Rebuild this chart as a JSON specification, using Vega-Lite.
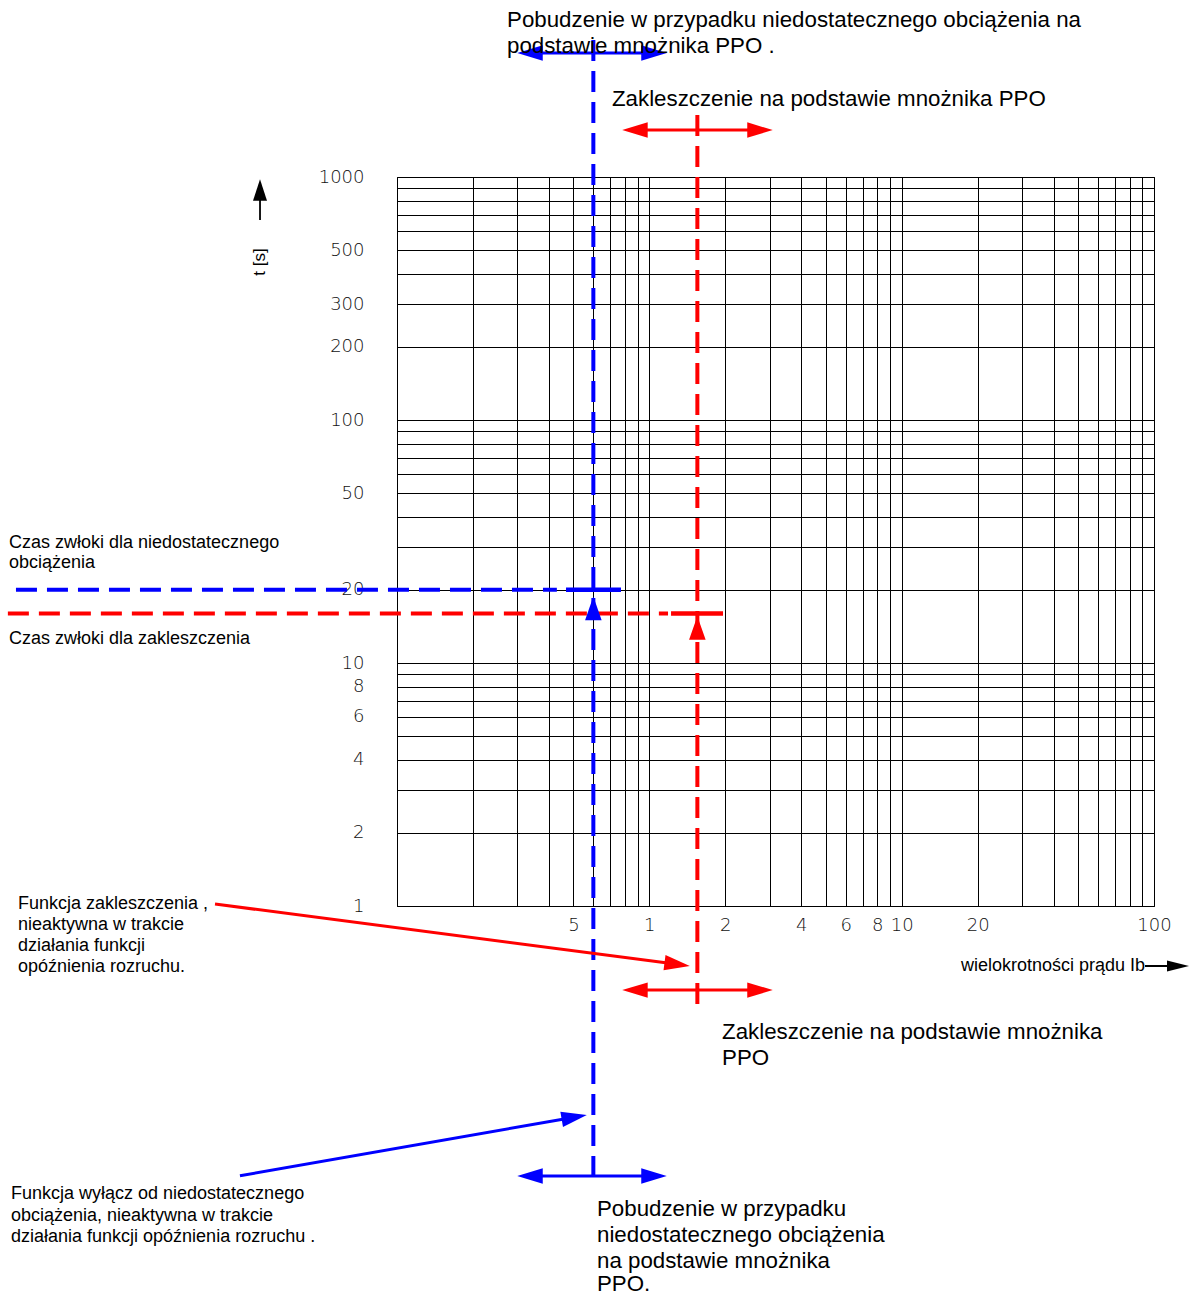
{
  "$schema": "https://vega.github.io/schema/vega-lite/v6.json",
  "width": 757,
  "height": 729,
  "autosize": {"type": "none"},
  "padding": {"left": 397, "top": 177, "right": 40, "bottom": 391},
  "background": "white",
  "config": {"view": {"stroke": "#000", "strokeWidth": 1}, "font": "Liberation Sans"},
  "datasets": {
    "dashed": [
      {"seg": "b-v", "series": "underload", "x": 0.6, "y": 3662},
      {"seg": "b-v", "series": "underload", "x": 0.6, "y": 0.0698},
      {"seg": "b-h", "series": "underload", "x": 0.00309, "y": 20},
      {"seg": "b-h", "series": "underload", "x": 0.43, "y": 20},
      {"seg": "r-v", "series": "jam", "x": 1.55, "y": 1799},
      {"seg": "r-v", "series": "jam", "x": 1.55, "y": 0.3628},
      {"seg": "r-h", "series": "jam", "x": 0.00287, "y": 16},
      {"seg": "r-h", "series": "jam", "x": 1.186, "y": 16}
    ],
    "bars": [
      {"seg": "b", "series": "underload", "x": 0.4675, "y": 20},
      {"seg": "b", "series": "underload", "x": 0.772, "y": 20},
      {"seg": "r", "series": "jam", "x": 1.219, "y": 16},
      {"seg": "r", "series": "jam", "x": 1.959, "y": 16}
    ],
    "shafts": [
      {"seg": "bt", "series": "underload", "x": 0.3365, "y": 3238},
      {"seg": "bt", "series": "underload", "x": 1.0435, "y": 3238},
      {"seg": "rt", "series": "jam", "x": 0.877, "y": 1561},
      {"seg": "rt", "series": "jam", "x": 2.745, "y": 1561},
      {"seg": "rb", "series": "jam", "x": 0.877, "y": 0.451},
      {"seg": "rb", "series": "jam", "x": 2.745, "y": 0.451},
      {"seg": "bb", "series": "underload", "x": 0.3365, "y": 0.07743},
      {"seg": "bb", "series": "underload", "x": 1.0435, "y": 0.07743},
      {"seg": "rd", "series": "jam", "x": 0.019, "y": 1.019},
      {"seg": "rd", "series": "jam", "x": 1.289, "y": 0.5755},
      {"seg": "bd", "series": "underload", "x": 0.02386, "y": 0.07764},
      {"seg": "bd", "series": "underload", "x": 0.5039, "y": 0.1352}
    ],
    "axisShafts": [
      {"seg": "t", "series": "axis", "x": 0.02865, "y": 665.3},
      {"seg": "t", "series": "axis", "x": 0.02865, "y": 884.2},
      {"seg": "i", "series": "axis", "x": 92.12, "y": 0.5663},
      {"seg": "i", "series": "axis", "x": 124.5, "y": 0.5663}
    ],
    "heads": [
      {"dir": "up", "series": "underload", "x": 0.6, "y": 16.78},
      {"dir": "up", "series": "jam", "x": 1.55, "y": 13.93},
      {"dir": "left", "series": "underload", "x": 0.3365, "y": 3238},
      {"dir": "right", "series": "underload", "x": 1.0435, "y": 3238},
      {"dir": "left", "series": "jam", "x": 0.877, "y": 1561},
      {"dir": "right", "series": "jam", "x": 2.745, "y": 1561},
      {"dir": "left", "series": "jam", "x": 0.877, "y": 0.451},
      {"dir": "right", "series": "jam", "x": 2.745, "y": 0.451},
      {"dir": "left", "series": "underload", "x": 0.3365, "y": 0.07743},
      {"dir": "right", "series": "underload", "x": 1.0435, "y": 0.07743},
      {"dir": "down-right", "series": "jam", "x": 1.289, "y": 0.5755},
      {"dir": "up-right", "series": "underload", "x": 0.5039, "y": 0.1352},
      {"dir": "axis-up", "series": "axis", "x": 0.02865, "y": 884.2},
      {"dir": "axis-right", "series": "axis", "x": 124.5, "y": 0.5663}
    ],
    "texts": [
      {"role": "big", "text": "Pobudzenie w przypadku niedostatecznego obciążenia na", "x": 0.2729, "y": 4427},
      {"role": "big", "text": "podstawie mnożnika PPO .", "x": 0.2729, "y": 3460},
      {"role": "big", "text": "Zakleszczenie na podstawie mnożnika PPO", "x": 0.7113, "y": 2094},
      {"role": "big", "text": "Zakleszczenie na podstawie mnożnika", "x": 1.941, "y": 0.3031},
      {"role": "big", "text": "PPO", "x": 1.941, "y": 0.2368},
      {"role": "big", "text": "Pobudzenie w przypadku", "x": 0.6203, "y": 0.0566},
      {"role": "big", "text": "niedostatecznego obciążenia", "x": 0.6203, "y": 0.0443},
      {"role": "big", "text": "na podstawie mnożnika", "x": 0.6203, "y": 0.0347},
      {"role": "big", "text": "PPO.", "x": 0.6203, "y": 0.0277},
      {"role": "note", "text": "Czas zwłoki dla niedostatecznego", "x": 0.0029, "y": 31.17},
      {"role": "note", "text": "obciążenia", "x": 0.0029, "y": 25.79},
      {"role": "note", "text": "Czas zwłoki dla zakleszczenia", "x": 0.0029, "y": 12.55},
      {"role": "note", "text": "Funkcja zakleszczenia ,", "x": 0.003148, "y": 1.019},
      {"role": "note", "text": "nieaktywna w trakcie", "x": 0.003148, "y": 0.8353},
      {"role": "note", "text": "działania funkcji", "x": 0.003148, "y": 0.6846},
      {"role": "note", "text": "opóźnienia rozruchu.", "x": 0.003148, "y": 0.561},
      {"role": "note", "text": "Funkcja wyłącz od niedostatecznego", "x": 0.002953, "y": 0.0653},
      {"role": "note", "text": "obciążenia, nieaktywna w trakcie", "x": 0.002953, "y": 0.05301},
      {"role": "note", "text": "działania funkcji opóźnienia rozruchu .", "x": 0.002953, "y": 0.04343},
      {"role": "xtitle", "text": "wielokrotności prądu Ib", "x": 92.12, "y": 0.5663},
      {"role": "ytitle", "text": "t [s]", "x": 0.02865, "y": 446.9}
    ]
  },
  "encoding": {
    "x": {
      "field": "x", "type": "quantitative",
      "scale": {"type": "log", "domain": [0.1, 100], "nice": false},
      "axis": {
        "values": [0.1, 0.2, 0.3, 0.4, 0.5, 0.6, 0.7, 0.8, 0.9, 1, 2, 3, 4, 5, 6, 7, 8, 9, 10, 20, 30, 40, 50, 60, 70, 80, 90, 100],
        "labelExpr": "indexof([0.5,1,2,4,6,8,10,20,100], datum.value) >= 0 ? (datum.value == 0.5 ? '5' : toString(datum.value)) : ''",
        "title": null, "grid": true, "gridColor": "#000", "gridOpacity": 1, "gridWidth": 1,
        "ticks": false, "domain": false, "labelFont": "DejaVu Sans", "labelFontSize": 18, "labelFontWeight": 200,
        "labelColor": "#111", "labelPadding": 10, "labelFlush": false, "labelOverlap": false, "labelBound": false
      }
    },
    "y": {
      "field": "y", "type": "quantitative",
      "scale": {"type": "log", "domain": [1, 1000], "nice": false},
      "axis": {
        "values": [1, 2, 3, 4, 5, 6, 7, 8, 9, 10, 20, 30, 40, 50, 60, 70, 80, 90, 100, 200, 300, 400, 500, 600, 700, 800, 900, 1000],
        "labelExpr": "indexof([1,2,4,6,8,10,20,50,100,200,300,500,1000], datum.value) >= 0 ? toString(datum.value) : ''",
        "title": null, "grid": true, "gridColor": "#000", "gridOpacity": 1, "gridWidth": 1,
        "ticks": false, "domain": false, "labelFont": "DejaVu Sans", "labelFontSize": 18, "labelFontWeight": 200,
        "labelColor": "#111", "labelPadding": 33, "labelOverlap": false, "labelBound": false, "labelFlush": false
      }
    }
  },
  "layer": [
    {
      "data": {"name": "dashed"},
      "mark": {"type": "line", "strokeWidth": 4, "strokeDash": [21, 10], "strokeCap": "butt"},
      "encoding": {
        "detail": {"field": "seg"},
        "color": {"field": "series", "type": "nominal", "scale": {"domain": ["underload", "jam", "axis"], "range": ["#0000ff", "#ff0000", "#000000"]}, "legend": null}
      }
    },
    {
      "data": {"name": "bars"},
      "mark": {"type": "line", "strokeWidth": 4.5, "strokeCap": "butt"},
      "encoding": {
        "detail": {"field": "seg"},
        "color": {"field": "series", "type": "nominal", "scale": {"domain": ["underload", "jam", "axis"], "range": ["#0000ff", "#ff0000", "#000000"]}, "legend": null}
      }
    },
    {
      "data": {"name": "shafts"},
      "mark": {"type": "line", "strokeWidth": 3, "strokeCap": "butt"},
      "encoding": {
        "detail": {"field": "seg"},
        "color": {"field": "series", "type": "nominal", "scale": {"domain": ["underload", "jam", "axis"], "range": ["#0000ff", "#ff0000", "#000000"]}, "legend": null}
      }
    },
    {
      "data": {"name": "axisShafts"},
      "mark": {"type": "line", "strokeWidth": 1.8, "strokeCap": "butt"},
      "encoding": {
        "detail": {"field": "seg"},
        "color": {"field": "series", "type": "nominal", "scale": {"domain": ["underload", "jam", "axis"], "range": ["#0000ff", "#ff0000", "#000000"]}, "legend": null}
      }
    },
    {
      "data": {"name": "heads"},
      "transform": [{"filter": "datum.dir == 'up'"}],
      "mark": {"type": "point", "filled": true, "opacity": 1, "strokeWidth": 0, "shape": "M0,-1L0.7,1L-0.7,1Z", "size": 560, "angle": 0},
      "encoding": {"color": {"field": "series", "type": "nominal", "scale": {"domain": ["underload", "jam", "axis"], "range": ["#0000ff", "#ff0000", "#000000"]}, "legend": null}}
    },
    {
      "data": {"name": "heads"},
      "transform": [{"filter": "datum.dir == 'left'"}],
      "mark": {"type": "point", "filled": true, "opacity": 1, "strokeWidth": 0, "shape": "M0,-1L0.6,1L-0.6,1Z", "size": 650, "angle": 270},
      "encoding": {"color": {"field": "series", "type": "nominal", "scale": {"domain": ["underload", "jam", "axis"], "range": ["#0000ff", "#ff0000", "#000000"]}, "legend": null}}
    },
    {
      "data": {"name": "heads"},
      "transform": [{"filter": "datum.dir == 'right'"}],
      "mark": {"type": "point", "filled": true, "opacity": 1, "strokeWidth": 0, "shape": "M0,-1L0.6,1L-0.6,1Z", "size": 650, "angle": 90},
      "encoding": {"color": {"field": "series", "type": "nominal", "scale": {"domain": ["underload", "jam", "axis"], "range": ["#0000ff", "#ff0000", "#000000"]}, "legend": null}}
    },
    {
      "data": {"name": "heads"},
      "transform": [{"filter": "datum.dir == 'down-right'"}],
      "mark": {"type": "point", "filled": true, "opacity": 1, "strokeWidth": 0, "shape": "M0,-1L0.6,1L-0.6,1Z", "size": 650, "angle": 97.4},
      "encoding": {"color": {"field": "series", "type": "nominal", "scale": {"domain": ["underload", "jam", "axis"], "range": ["#0000ff", "#ff0000", "#000000"]}, "legend": null}}
    },
    {
      "data": {"name": "heads"},
      "transform": [{"filter": "datum.dir == 'up-right'"}],
      "mark": {"type": "point", "filled": true, "opacity": 1, "strokeWidth": 0, "shape": "M0,-1L0.6,1L-0.6,1Z", "size": 650, "angle": 80.1},
      "encoding": {"color": {"field": "series", "type": "nominal", "scale": {"domain": ["underload", "jam", "axis"], "range": ["#0000ff", "#ff0000", "#000000"]}, "legend": null}}
    },
    {
      "data": {"name": "heads"},
      "transform": [{"filter": "datum.dir == 'axis-up'"}],
      "mark": {"type": "point", "filled": true, "opacity": 1, "strokeWidth": 0, "shape": "M0,-1L0.65,1L-0.65,1Z", "size": 462, "angle": 0},
      "encoding": {"color": {"field": "series", "type": "nominal", "scale": {"domain": ["underload", "jam", "axis"], "range": ["#0000ff", "#ff0000", "#000000"]}, "legend": null}}
    },
    {
      "data": {"name": "heads"},
      "transform": [{"filter": "datum.dir == 'axis-right'"}],
      "mark": {"type": "point", "filled": true, "opacity": 1, "strokeWidth": 0, "shape": "M0,-1L0.5,1L-0.5,1Z", "size": 484, "angle": 90},
      "encoding": {"color": {"field": "series", "type": "nominal", "scale": {"domain": ["underload", "jam", "axis"], "range": ["#0000ff", "#ff0000", "#000000"]}, "legend": null}}
    },
    {
      "data": {"name": "texts"},
      "transform": [{"filter": "datum.role == 'big'"}],
      "mark": {"type": "text", "align": "left", "baseline": "middle", "font": "Liberation Sans", "fontSize": 22.3, "color": "#000"},
      "encoding": {"text": {"field": "text"}}
    },
    {
      "data": {"name": "texts"},
      "transform": [{"filter": "datum.role == 'note'"}],
      "mark": {"type": "text", "align": "left", "baseline": "middle", "font": "Liberation Sans", "fontSize": 18, "color": "#000"},
      "encoding": {"text": {"field": "text"}}
    },
    {
      "data": {"name": "texts"},
      "transform": [{"filter": "datum.role == 'xtitle'"}],
      "mark": {"type": "text", "align": "right", "baseline": "middle", "font": "Liberation Sans", "fontSize": 18, "color": "#000"},
      "encoding": {"text": {"field": "text"}}
    },
    {
      "data": {"name": "texts"},
      "transform": [{"filter": "datum.role == 'ytitle'"}],
      "mark": {"type": "text", "align": "center", "baseline": "middle", "font": "Liberation Sans", "fontSize": 17, "angle": 270, "color": "#000"},
      "encoding": {"text": {"field": "text"}}
    }
  ]
}
